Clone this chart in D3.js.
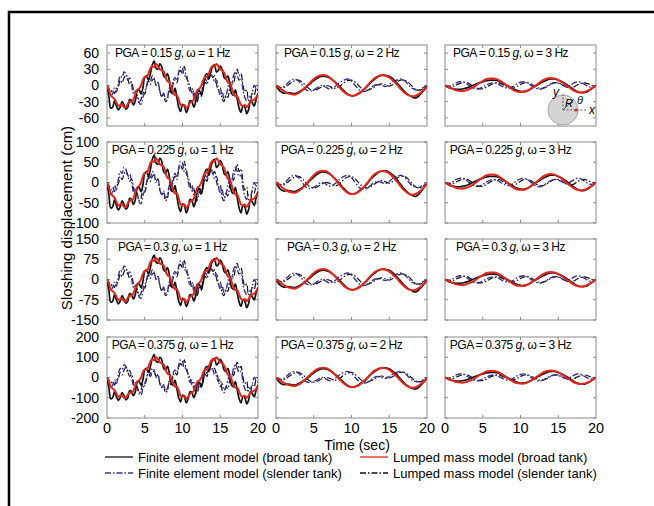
<!DOCTYPE html>
<html>
<head>
<meta charset="utf-8">
<script src="https://cdn.jsdelivr.net/npm/d3@7"></script>
<style>
  body { margin: 0; background: #fff; }
  svg { display: block; font-family: "Liberation Sans", Arial, sans-serif; }
</style>
</head>
<body>
<div id="chart"></div>
<script>
// PGA of each row, frequency of each column
const pgaLevels = [0.15, 0.225, 0.3, 0.375];
const pgaLabels = ["0.15", "0.225", "0.3", "0.375"];
const freqs = [1, 2, 3];
const yExtent = [75, 100, 150, 200];
const yTicks = [[-60, -30, 0, 30, 60], [-100, -50, 0, 50, 100], [-150, -75, 0, 75, 150], [-200, -100, 0, 100, 200]];
const xTicks = [0, 5, 10, 15, 20];

// response read at PGA = 0.15g (cm); rows scale with PGA
// omega = 1 Hz, step 0.25 s
const fe_broad_1 = [0, -20, -42, -40, -28, -38, -45, -40, -30, -36, -44, -40, -26, -28, -36, -28, -10, -8, -15, -5, 15, 18, 10, 22, 38, 45, 32, 30, 40, 35, 18, 15, 22, 10, -12, -15, -5, -22, -40, -48, -35, -38, -50, -42, -28, -30, -40, -30, -12, -10, -18, -5, 18, 22, 12, 25, 35, 38, 25, 28, 36, 30, 15, 12, 18, 5, -15, -18, -8, -25, -42, -50, -38, -40, -52, -45, -28, -32, -38, -25, -15];
const lm_broad_1 = [0, -8, -18, -22, -25, -32, -38, -36, -35, -40, -40, -34, -30, -30, -26, -16, -8, -6, 0, 10, 16, 16, 22, 32, 36, 34, 40, 36, 30, 28, 26, 16, 8, 6, -2, -12, -18, -18, -26, -36, -38, -36, -42, -38, -32, -30, -26, -16, -8, -6, 0, 10, 16, 16, 22, 32, 36, 34, 40, 36, 30, 28, 24, 14, 6, 4, -4, -14, -20, -20, -28, -36, -38, -36, -40, -36, -30, -28, -26, -22, -18];
const fe_slender_1 = [0, -10, -20, -15, -5, -12, 5, 18, 15, 25, 22, 10, 14, 2, -15, -10, -20, -32, -35, -22, -12, 0, 12, 8, 18, 14, 0, 4, -10, -20, -14, -25, -22, -5, -10, 8, 15, 10, 25, 35, 32, 18, 20, 2, -10, -5, -22, -28, -24, -10, -14, 2, 12, 8, 18, 20, 16, 6, 10, -6, -18, -12, -25, -20, -5, 5, 0, 18, 25, 18, 10, 12, -8, -22, -28, -20, -22, -12, 0, -5, 5];
const lm_slender_1 = [0, -5, -12, -8, -15, -5, -2, 10, 5, 14, 20, 12, 2, 6, -8, -22, -18, -30, -26, -12, -16, -2, 8, 2, 10, 12, 2, 6, -12, -20, -16, -30, -26, -10, -14, 2, 10, 5, 20, 28, 22, 35, 15, 8, -2, -14, -10, -32, -28, -15, -20, -2, 6, 2, 20, 25, 15, 18, 2, -8, -4, -25, -30, -18, -22, -5, 8, 4, 20, 30, 18, 22, 2, -12, -8, -28, -30, -15, -18, -5, -10];
// omega = 2 Hz, step 0.5 s
const fe_broad_2 = [0, -10, -14, -13, -14, -15, -12, -8, -3, 3, 9, 14, 17, 17, 15, 10, 4, -3, -10, -16, -19, -18, -14, -9, -3, 5, 11, 16, 19, 19, 17, 12, 5, -3, -11, -17, -21, -23, -18, -10, -2];
const lm_broad_2 = [0, -5, -10, -14, -16, -17, -14, -9, -2, 5, 12, 17, 19, 19, 16, 10, 3, -5, -12, -17, -19, -18, -15, -9, -2, 6, 13, 17, 19, 18, 15, 9, 2, -6, -13, -18, -20, -19, -15, -9, -2];
const fe_slender_2 = [0, -4, -2, 4, 10, 12, 8, 0, -8, -10, -8, -4, 0, -2, -6, -5, 0, 6, 10, 12, 8, 0, -8, -11, -10, -5, 0, 2, 0, -2, 2, 7, 10, 12, 9, 2, -5, -8, -8, -4, 0];
const lm_slender_2 = [0, -3, -4, 0, 5, 9, 10, 6, -1, -7, -9, -7, -3, 0, -1, -4, -5, -1, 5, 9, 10, 6, -1, -7, -9, -7, -3, 1, 3, 1, -1, 2, 7, 10, 10, 6, -1, -7, -9, -6, -1];
// omega = 3 Hz, step 0.5 s
const fe_broad_3 = [0, -4, -6, -7, -7, -6, -4, -1, 2, 5, 7, 9, 10, 10, 9, 6, 2, -2, -6, -9, -11, -11, -9, -5, -1, 3, 7, 10, 12, 12, 10, 7, 3, -2, -7, -11, -13, -13, -10, -5, 0];
const lm_broad_3 = [0, -3, -6, -9, -10, -10, -8, -5, -1, 4, 8, 12, 13, 13, 11, 7, 2, -3, -8, -11, -12, -12, -9, -5, 0, 5, 10, 13, 14, 13, 10, 6, 1, -4, -9, -12, -13, -12, -9, -5, 0];
const fe_slender_3 = [0, -2, 1, 5, 7, 6, 2, -3, -6, -6, -3, 1, 4, 5, 3, -1, -4, -5, -2, 3, 6, 7, 4, -1, -5, -7, -5, -1, 3, 5, 4, 1, -2, 0, 4, 7, 6, 2, -2, -3, 0];
const lm_slender_3 = [0, -1, -2, 1, 4, 6, 5, 1, -3, -6, -6, -3, 1, 4, 5, 3, -1, -4, -5, -2, 2, 5, 5, 2, -2, -5, -5, -2, 2, 5, 5, 2, -2, -4, -3, 1, 4, 5, 3, 0, -1];

const seriesNames = ["Finite element model (broad tank)", "Lumped mass model (broad tank)", "Finite element model (slender tank)", "Lumped mass model (slender tank)"];
const dataByFreq = [
  { step: 0.25, series: [fe_broad_1, lm_broad_1, fe_slender_1, lm_slender_1] },
  { step: 0.5, series: [fe_broad_2, lm_broad_2, fe_slender_2, lm_slender_2] },
  { step: 0.5, series: [fe_broad_3, lm_broad_3, fe_slender_3, lm_slender_3] }
];

// styles by series index
const styles = [
  { color: "#111", width: 1.7, dash: null },
  { color: "#e3261b", width: 2, dash: null },
  { color: "#3b2f9e", width: 1.4, dash: "6,2,1.5,2" },
  { color: "#111", width: 1.2, dash: "6,2,1.5,2" }
];
const drawOrder = [3, 2, 0, 1];

function init() {
  const W = 654, H = 506;
  const svg = d3.select("#chart").append("svg").attr("width", W).attr("height", H);

  // outer frame (cropped at right/bottom)
  svg.append("rect")
    .attr("x", 9).attr("y", 12).attr("width", 660).attr("height", 520)
    .attr("fill", "none").attr("stroke", "#000").attr("stroke-width", 2.5);

  const colLeft = [107, 276, 445], pw = 151;
  const rowTop = [45, 142, 239, 337], ph = 81;

  pgaLevels.forEach(function (pga, r) {
    const scale = pga / pgaLevels[0];
    const y = d3.scaleLinear().domain([-yExtent[r], yExtent[r]]).range([rowTop[r] + ph, rowTop[r]]);
    freqs.forEach(function (f, c) {
      const x = d3.scaleLinear().domain([0, 20]).range([colLeft[c], colLeft[c] + pw]);
      const g = svg.append("g");
      const clipId = "clip" + r + c;
      g.append("clipPath").attr("id", clipId).append("rect")
        .attr("x", colLeft[c]).attr("y", rowTop[r]).attr("width", pw).attr("height", ph);

      // frame
      g.append("rect")
        .attr("x", colLeft[c]).attr("y", rowTop[r]).attr("width", pw).attr("height", ph)
        .attr("fill", "none").attr("stroke", "#8a8a8a").attr("stroke-width", 1);

      // inward ticks on all sides
      const tk = g.append("g").attr("stroke", "#8a8a8a").attr("stroke-width", 1);
      xTicks.slice(1, -1).forEach(function (t) {
        tk.append("line").attr("x1", x(t)).attr("x2", x(t)).attr("y1", rowTop[r] + ph).attr("y2", rowTop[r] + ph - 3);
        tk.append("line").attr("x1", x(t)).attr("x2", x(t)).attr("y1", rowTop[r]).attr("y2", rowTop[r] + 3);
      });
      yTicks[r].forEach(function (v) {
        tk.append("line").attr("x1", colLeft[c]).attr("x2", colLeft[c] + 3).attr("y1", y(v)).attr("y2", y(v));
        tk.append("line").attr("x1", colLeft[c] + pw).attr("x2", colLeft[c] + pw - 3).attr("y1", y(v)).attr("y2", y(v));
      });

      if (c === 0) {
        g.selectAll("text.yt").data(yTicks[r]).join("text")
          .attr("x", colLeft[c] - 8).attr("y", function (d) { return y(d); })
          .attr("dy", "0.35em").attr("text-anchor", "end")
          .attr("font-size", 14).attr("fill", "#000")
          .text(function (d) { return d; });
      }
      if (r === pgaLevels.length - 1) {
        g.selectAll("text.xt").data(xTicks).join("text")
          .attr("x", function (d) { return x(d); }).attr("y", rowTop[r] + ph + 15)
          .attr("text-anchor", "middle").attr("font-size", 14.5).attr("fill", "#000")
          .text(function (d) { return d; });
      }

      // curves
      const set = dataByFreq[c];
      const line = d3.line()
        .x(function (d, i) { return x(i * set.step); })
        .y(function (d) { return y(d * scale); })
        .curve(d3.curveCatmullRom);
      const lines = g.append("g").attr("clip-path", "url(#" + clipId + ")");
      drawOrder.forEach(function (si) {
        const st = styles[si];
        lines.append("path")
          .datum(set.series[si])
          .attr("d", line)
          .attr("fill", "none")
          .attr("stroke", st.color)
          .attr("stroke-width", st.width)
          .attr("stroke-dasharray", st.dash)
          .attr("stroke-linejoin", "round");
      });

      // panel title
      const t = g.append("text")
        .attr("x", colLeft[c] + pw / 2 - 10).attr("y", rowTop[r] + 12)
        .attr("text-anchor", "middle").attr("font-size", 12)
        .attr("letter-spacing", -0.5).attr("fill", "#000");
      t.append("tspan").text("PGA = " + pgaLabels[r] + " ");
      t.append("tspan").attr("font-style", "italic").text("g");
      t.append("tspan").text(", \u03C9 = " + f + " Hz");
    });
  });

  // inset sketch of tank in top-right panel
  const cx = colLeft[2] + 118, cy = rowTop[0] + 65, rad = 15;
  const ins = svg.append("g");
  ins.append("circle").attr("cx", cx).attr("cy", cy).attr("r", rad)
    .attr("fill", "#d4d4d4").attr("stroke", "#999").attr("stroke-width", 0.8);
  ins.append("line").attr("x1", cx).attr("y1", cy).attr("x2", cx + 24).attr("y2", cy)
    .attr("stroke", "#444").attr("stroke-width", 0.8).attr("stroke-dasharray", "2,1.5");
  ins.append("line").attr("x1", cx).attr("y1", cy).attr("x2", cx).attr("y2", cy - 17)
    .attr("stroke", "#444").attr("stroke-width", 0.8).attr("stroke-dasharray", "2,1.5");
  ins.append("line").attr("x1", cx).attr("y1", cy).attr("x2", cx + 11).attr("y2", cy - 11)
    .attr("stroke", "#444").attr("stroke-width", 0.8);
  ins.append("circle").attr("cx", cx + 13).attr("cy", cy).attr("r", 1.6).attr("fill", "#e3261b");
  ins.append("text").attr("x", cx + 26).attr("y", cy + 4).attr("font-size", 12).attr("font-style", "italic").text("x");
  ins.append("text").attr("x", cx - 10).attr("y", cy - 14).attr("font-size", 12).attr("font-style", "italic").text("y");
  ins.append("text").attr("x", cx + 2).attr("y", cy - 3).attr("font-size", 11).attr("font-style", "italic").text("R");
  ins.append("text").attr("x", cx + 14).attr("y", cy - 6).attr("font-size", 11).attr("font-style", "italic").text("\u03B8");

  // axis titles
  svg.append("text").attr("x", 357).attr("y", 450).attr("text-anchor", "middle")
    .attr("font-size", 14).text("Time (sec)");
  svg.append("text").attr("transform", "translate(72,218) rotate(-90)")
    .attr("text-anchor", "middle").attr("font-size", 15).text("Sloshing displacement (cm)");

  // legend
  const legPos = [[105, 457], [360, 457], [105, 473], [360, 473]];
  seriesNames.forEach(function (name, i) {
    const st = styles[i];
    const p = legPos[i];
    svg.append("line").attr("x1", p[0]).attr("x2", p[0] + 28).attr("y1", p[1]).attr("y2", p[1])
      .attr("stroke", st.color).attr("stroke-width", 1.3).attr("stroke-dasharray", st.dash);
    svg.append("text").attr("x", p[0] + 33).attr("y", p[1]).attr("dy", "0.35em")
      .attr("font-size", 13).text(name);
  });
}

window.addEventListener('load', init);
</script>
</body>
</html>
